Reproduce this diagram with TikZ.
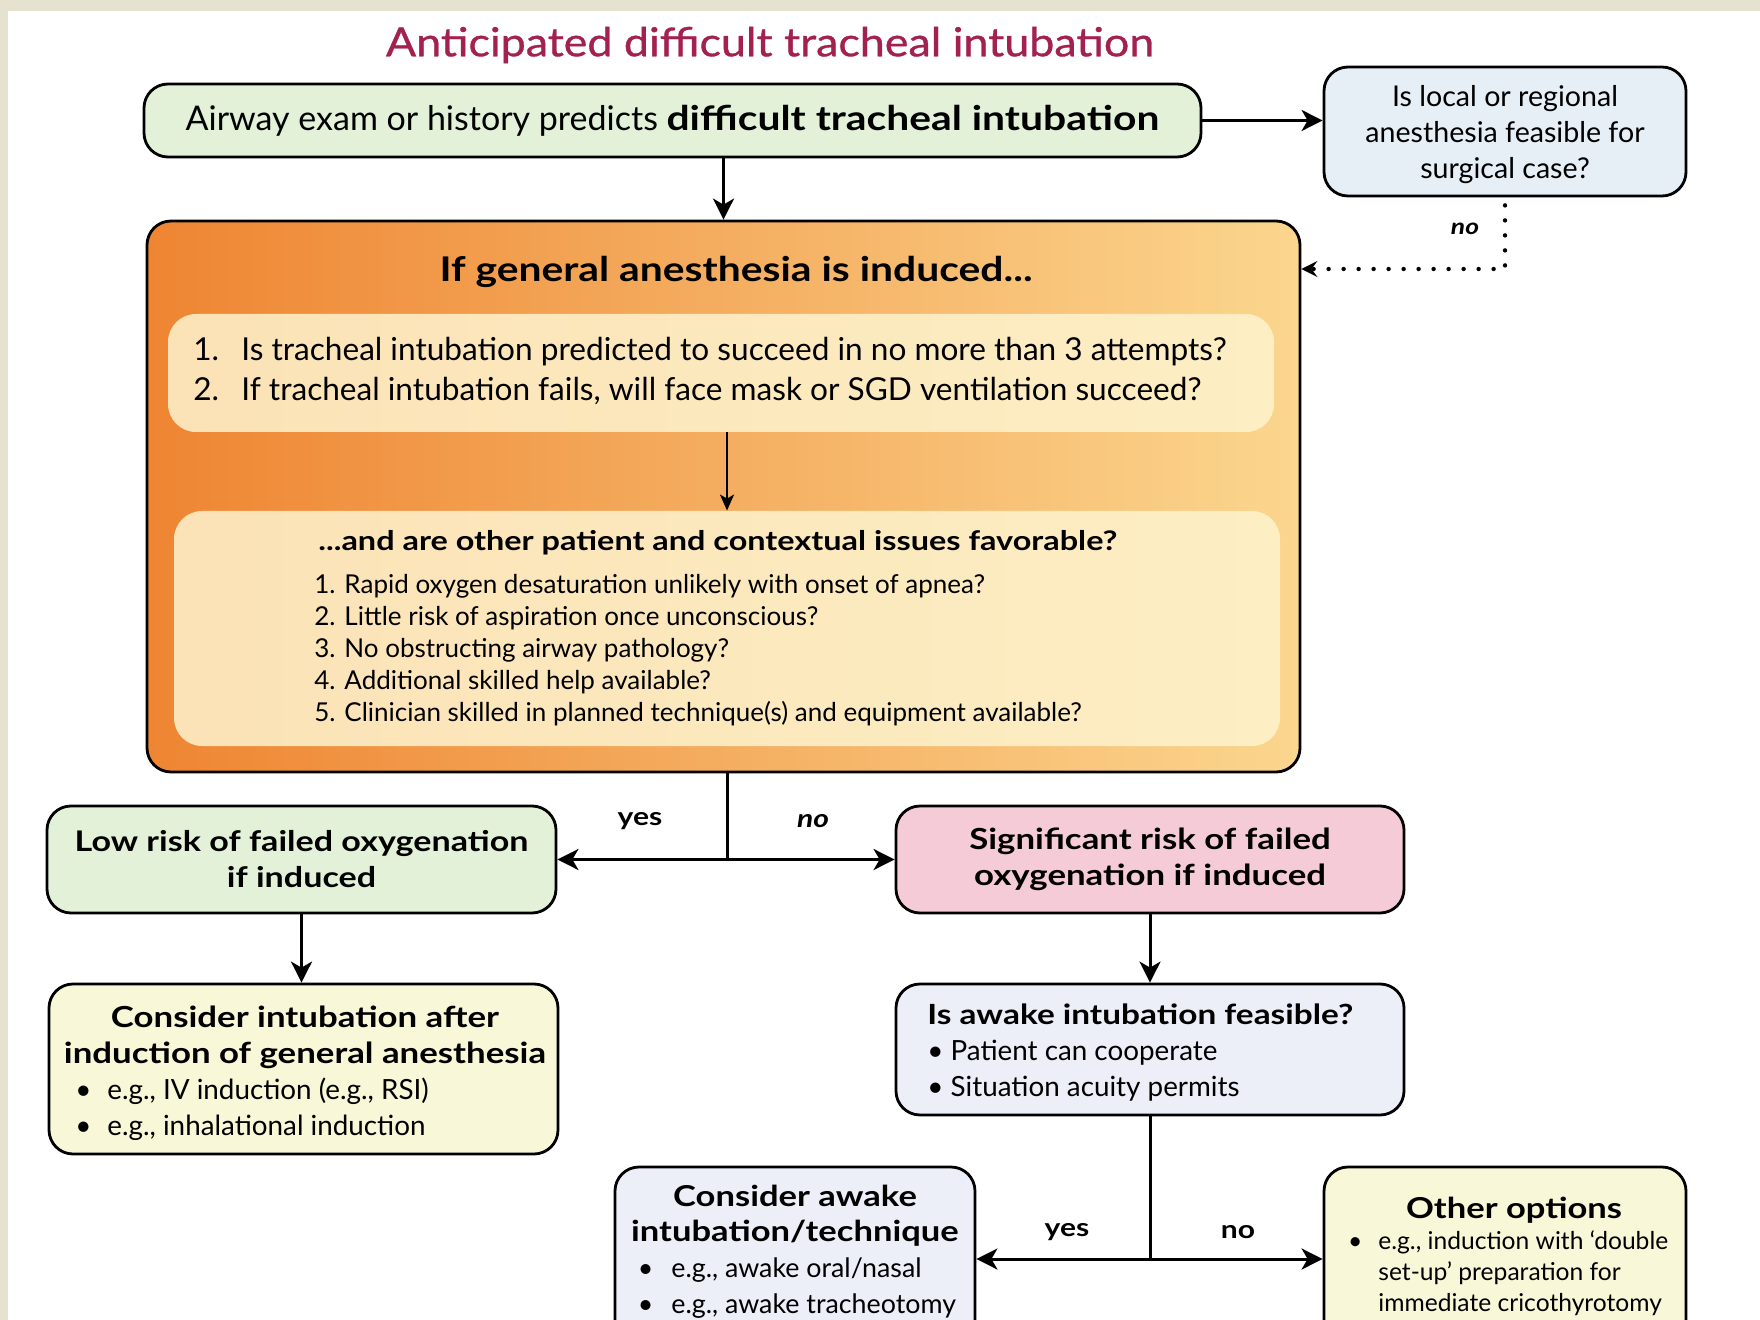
\documentclass[tikz,border=0pt]{standalone}
\usepackage{fontspec}
\setmainfont{Lato}[BoldFeatures={FakeStretch=1.2},BoldItalicFeatures={FakeStretch=1.2}]
\newfontfamily\titlefont[FakeBold=0.8,FakeStretch=1.12]{Lato}
\usetikzlibrary{arrows.meta}
\definecolor{bgbeige}{HTML}{E6E2D0}
\definecolor{titlered}{HTML}{A3214F}
\definecolor{cgreen}{HTML}{E3F1D9}
\definecolor{cblue}{HTML}{E6EEF6}
\definecolor{cpink}{HTML}{F5CBD8}
\definecolor{cyellow}{HTML}{F8F7D8}
\definecolor{clav}{HTML}{ECEEF8}
\definecolor{orL}{HTML}{EE8532}
\definecolor{orM}{HTML}{F7BA64}
\definecolor{orR}{HTML}{FBD68E}
\definecolor{cream}{HTML}{FEF3CE}
\tikzset{
  box/.style={draw=black, line width=1.4pt, rounded corners=12pt, inner sep=0pt},
  innerbox/.style={draw=none, fill=cream, fill opacity=0.85, rounded corners=14pt, inner sep=0pt},
  txt/.style={inner sep=0pt},
  arr/.style={line width=1.5pt, -{Stealth[length=10.5pt,width=10.5pt,inset=3pt]}},
  thinarr/.style={line width=1.1pt, -{Stealth[length=8pt,width=7pt,inset=2pt]}},
  plainline/.style={line width=1.5pt},
  dotarr/.style={line width=2.2pt, line cap=round, dash pattern=on 0pt off 7.5pt, -{Stealth[length=8pt,width=8pt,inset=3pt]}},
  lbl/.style={font=\bfseries\fontsize{12.5}{15}\selectfont, inner sep=0pt},
}
\begin{document}
\begin{tikzpicture}[x=0.5pt,y=-0.5pt]
\useasboundingbox (0,0) rectangle (1760,1320);
\clip (0,0) rectangle (1760,1320);
\fill[bgbeige] (0,0) rectangle (1760,1320);
\fill[white] (8,11) rectangle (1760,1320);

% title
\node[txt, text=titlered, font=\titlefont\fontsize{20}{24}\selectfont] (title) at (770,45) {Anticipated difficult tracheal intubation};

% top boxes
\node[box, fill=cgreen, minimum width=528.5pt, minimum height=36.5pt, font=\fontsize{17}{20}\selectfont] (exam) at (672.5,120.5)
  {Airway exam or history predicts \textbf{difficult tracheal intubation}};
\node[box, fill=cblue, minimum width=181pt, minimum height=64.5pt] (local) at (1505,131.5) {};
\node[txt, align=center, font=\fontsize{14.3}{18}\selectfont] (localtext) at (1505,135)
  {Is local or regional\\anesthesia feasible for\\surgical case?};

% orange box
\node[box, left color=orL, middle color=orM, right color=orR, minimum width=576.5pt, minimum height=275.5pt] (ga) at (723.5,496.5) {};
\node[innerbox, minimum width=553pt, minimum height=59pt] (q1) at (721,373) {};
\node[innerbox, minimum width=553pt, minimum height=117.5pt] (q2) at (727,628.5) {};
\node[txt, font=\bfseries\fontsize{17}{20}\selectfont] (gatitle) at (736,272) {If general anesthesia is induced...};
\node[txt, anchor=west, align=left, font=\fontsize{15.8}{20}\selectfont] (q1text) at (193,371)
  {\makebox[24pt][l]{1.}Is tracheal intubation predicted to succeed in no more than 3 attempts?\\
   \makebox[24pt][l]{2.}If tracheal intubation fails, will face mask or SGD ventilation succeed?};
\node[txt, anchor=west, font=\bfseries\fontsize{13.5}{16}\selectfont] (q2head) at (318,543)
  {...and are other patient and contextual issues favorable?};
\node[txt, anchor=west, align=left, font=\fontsize{13}{16}\selectfont] (q2items) at (314,650)
  {1. Rapid oxygen desaturation unlikely with onset of apnea?\\
   2. Little risk of aspiration once unconscious?\\
   3. No obstructing airway pathology?\\
   4. Additional skilled help available?\\
   5. Clinician skilled in planned technique(s) and equipment available?};

% second row
\node[box, fill=cgreen, minimum width=254.5pt, minimum height=53.5pt, align=center, font=\bfseries\fontsize{14.2}{18}\selectfont] (low) at (301.5,859.5)
  {Low risk of failed oxygenation\\if induced};
\node[box, fill=cpink, minimum width=254pt, minimum height=53.5pt, align=center, font=\bfseries\fontsize{14.5}{18}\selectfont] (sig) at (1150,859.5)
  {Significant risk of failed\\oxygenation if induced};

% third row
\node[box, fill=cyellow, minimum width=254.5pt, minimum height=85pt] (cons) at (303.5,1069) {};
\node[txt, align=center, font=\bfseries\fontsize{14.5}{18}\selectfont] (conshead) at (305,1037)
  {Consider intubation after\\induction of general anesthesia};
\node[txt, anchor=west, align=left, font=\fontsize{13.9}{18}\selectfont] (consitems) at (107,1109)
  {\llap{\textbullet\hspace{8pt}}e.g., IV induction (e.g., RSI)\\
   \llap{\textbullet\hspace{8pt}}e.g., inhalational induction};

\node[box, fill=clav, minimum width=254pt, minimum height=65.5pt] (awake) at (1150,1049.5) {};
\node[txt, anchor=west, align=left, font=\fontsize{13.9}{18}\selectfont] (awaketext) at (927,1053)
  {\textbf{Is awake intubation feasible?}\\
   \textbullet\ Patient can cooperate\\
   \textbullet\ Situation acuity permits};

% bottom row
\node[box, fill=clav, minimum width=180pt, minimum height=100pt] (caw) at (795,1267) {};
\node[txt, align=center, font=\bfseries\fontsize{14.4}{17.5}\selectfont] (cawhead) at (795,1216)
  {Consider awake\\intubation/technique};
\node[txt, anchor=west, align=left, font=\fontsize{13.4}{18}\selectfont] (cawitems) at (671,1288)
  {\llap{\textbullet\hspace{9pt}}e.g., awake oral/nasal\\
   \llap{\textbullet\hspace{9pt}}e.g., awake tracheotomy};

\node[box, fill=cyellow, minimum width=181pt, minimum height=100pt] (other) at (1505,1267) {};
\node[txt, font=\bfseries\fontsize{14.4}{16}\selectfont] (otherhead) at (1514,1210)
  {Other options};
\node[txt, anchor=west, align=left, font=\fontsize{12.3}{15.5}\selectfont] (otheritems) at (1378,1273)
  {\llap{\textbullet\hspace{8pt}}e.g., induction with ‘double\\
   set-up’ preparation for\\immediate cricothyrotomy};

% connectors
\draw[arr] (exam.east) -- (exam.east -| local.west);
\draw[arr] (ga.north |- exam.south) -- (ga.north);
\coordinate (nocorner) at (1505,269);
\draw[dotarr] (local.south) ++(0,8) -- (nocorner) -- (nocorner -| ga.east);
\node[txt, font=\bfseries\itshape\fontsize{11}{13}\selectfont] (nolbl0) at (1465,229) {no};
\draw[thinarr] (q2.north |- q1.south) -- (q2.north);

\coordinate (split) at (727,859.5);
\draw[plainline] (ga.south -| split) -- (split);
\draw[arr] (split) -- (low.east);
\draw[arr] (split) -- (sig.west);
\node[lbl] (yes1) at (640,821) {yes};
\node[lbl, font=\bfseries\itshape\fontsize{12.5}{15}\selectfont] (no1) at (813,821) {no};

\draw[arr] (low.south) -- (low.south |- cons.north);
\draw[arr] (sig.south) -- (awake.north);

\coordinate (split2) at (1150,1259);
\draw[plainline] (awake.south) -- (split2);
\draw[arr] (split2) -- (split2 -| caw.east);
\draw[arr] (split2) -- (split2 -| other.west);
\node[lbl] (yes2) at (1067,1232) {yes};
\node[lbl] (no2) at (1238,1232) {no};
\end{tikzpicture}
\end{document}
